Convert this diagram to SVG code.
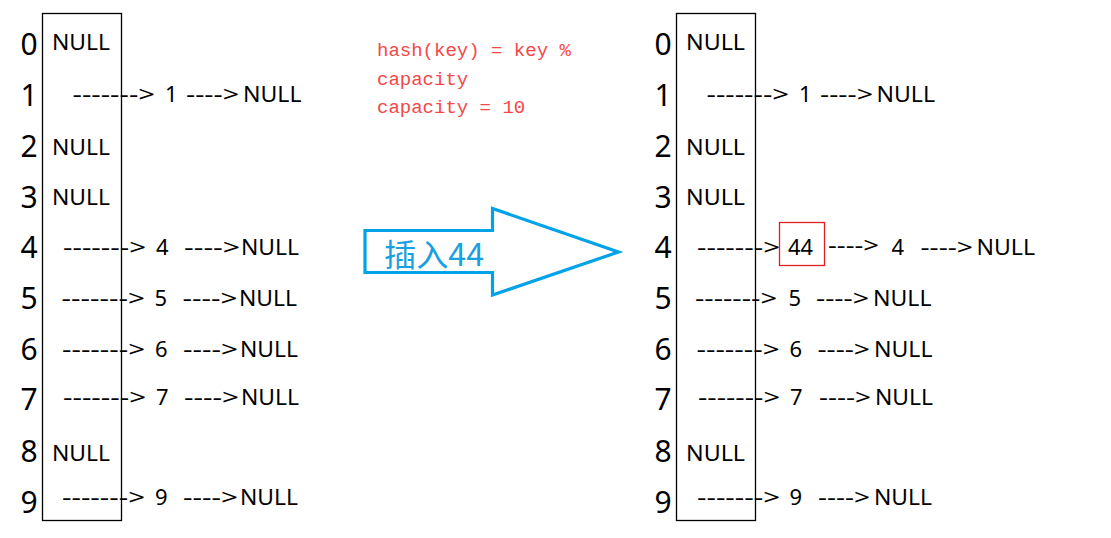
<svg xmlns="http://www.w3.org/2000/svg" width="1111" height="538" viewBox="0 0 1111 538">
<style>
.bg{fill:#ffffff}
.box{fill:none;stroke:#000;stroke-width:1.3}
.idx{font-family:"Noto Sans","Open Sans","DejaVu Sans",sans-serif;font-size:30px;fill:#000;text-anchor:middle}
.t{font-family:"Noto Sans","Open Sans","DejaVu Sans",sans-serif;font-size:22px;fill:#000}
.red{font-family:"Liberation Mono","DejaVu Sans Mono",monospace;font-size:19px;fill:#f44848}
.arrow{fill:#ffffff;stroke:#00a2e8;stroke-width:3.2;stroke-linejoin:miter}
.blue{font-family:"Noto Sans CJK SC","Noto Sans",sans-serif;font-size:31px;fill:#1aa0e0}
.hl{fill:none;stroke:#e02020;stroke-width:1.3}
</style>
<rect class="bg" x="0" y="0" width="1111" height="538"/>

<g id="left-table">
  <rect class="box" x="42.5" y="13.5" width="79" height="507"/>
  <text class="idx" x="29" y="55">0</text>
  <text class="idx" x="29" y="106">1</text>
  <text class="idx" x="29" y="157">2</text>
  <text class="idx" x="29" y="208">3</text>
  <text class="idx" x="29" y="258">4</text>
  <text class="idx" x="29" y="309">5</text>
  <text class="idx" x="29" y="360">6</text>
  <text class="idx" x="29" y="410">7</text>
  <text class="idx" x="29" y="462">8</text>
  <text class="idx" x="29" y="513">9</text>
  <text class="t" x="52" y="50" textLength="58" lengthAdjust="spacingAndGlyphs">NULL</text>
  <text class="t" x="52" y="155" textLength="58" lengthAdjust="spacingAndGlyphs">NULL</text>
  <text class="t" x="52" y="205" textLength="58" lengthAdjust="spacingAndGlyphs">NULL</text>
  <text class="t" x="52" y="461" textLength="58" lengthAdjust="spacingAndGlyphs">NULL</text>
</g>

<g id="left-chains">
  <g id="l-row1">
    <text class="t" x="72.5" y="102" textLength="82.5" lengthAdjust="spacingAndGlyphs">-------&gt;</text>
    <text class="t" x="165" y="102">1</text>
    <text class="t" x="186" y="102" textLength="53" lengthAdjust="spacingAndGlyphs">----&gt;</text>
    <text class="t" x="243" y="102" textLength="58.5" lengthAdjust="spacingAndGlyphs">NULL</text>
  </g>
  <g id="l-row4">
    <text class="t" x="63" y="255" textLength="83" lengthAdjust="spacingAndGlyphs">-------&gt;</text>
    <text class="t" x="156" y="255">4</text>
    <text class="t" x="184" y="255" textLength="56" lengthAdjust="spacingAndGlyphs">----&gt;</text>
    <text class="t" x="241" y="255" textLength="58" lengthAdjust="spacingAndGlyphs">NULL</text>
  </g>
  <g id="l-row5">
    <text class="t" x="61.5" y="306" textLength="83.5" lengthAdjust="spacingAndGlyphs">-------&gt;</text>
    <text class="t" x="154.5" y="306">5</text>
    <text class="t" x="182.5" y="306" textLength="55" lengthAdjust="spacingAndGlyphs">----&gt;</text>
    <text class="t" x="239" y="306" textLength="58" lengthAdjust="spacingAndGlyphs">NULL</text>
  </g>
  <g id="l-row6">
    <text class="t" x="62" y="357" textLength="83" lengthAdjust="spacingAndGlyphs">-------&gt;</text>
    <text class="t" x="155" y="357">6</text>
    <text class="t" x="183" y="357" textLength="55" lengthAdjust="spacingAndGlyphs">----&gt;</text>
    <text class="t" x="240" y="357" textLength="58" lengthAdjust="spacingAndGlyphs">NULL</text>
  </g>
  <g id="l-row7">
    <text class="t" x="63" y="405" textLength="83" lengthAdjust="spacingAndGlyphs">-------&gt;</text>
    <text class="t" x="156" y="405">7</text>
    <text class="t" x="184" y="405" textLength="55" lengthAdjust="spacingAndGlyphs">----&gt;</text>
    <text class="t" x="241" y="405" textLength="58" lengthAdjust="spacingAndGlyphs">NULL</text>
  </g>
  <g id="l-row9">
    <text class="t" x="62" y="505" textLength="83" lengthAdjust="spacingAndGlyphs">-------&gt;</text>
    <text class="t" x="155" y="505">9</text>
    <text class="t" x="183" y="505" textLength="55" lengthAdjust="spacingAndGlyphs">----&gt;</text>
    <text class="t" x="240" y="505" textLength="58" lengthAdjust="spacingAndGlyphs">NULL</text>
  </g>
</g>

<g id="formula">
  <text class="red" x="377" y="56" xml:space="preserve">hash(key) = key %</text>
  <text class="red" x="377" y="85">capacity</text>
  <text class="red" x="377" y="113" xml:space="preserve">capacity = 10</text>
</g>

<g id="insert-arrow">
  <polygon class="arrow" points="365,230.5 492.5,230.5 492.5,208.5 618.5,252 492.5,295 492.5,272.5 365,272.5"/>
  <text class="blue" x="384" y="266" textLength="100" lengthAdjust="spacingAndGlyphs">插入44</text>
</g>

<g id="right-table">
  <rect class="box" x="676.5" y="13.5" width="79" height="507"/>
  <text class="idx" x="663" y="55">0</text>
  <text class="idx" x="663" y="106">1</text>
  <text class="idx" x="663" y="157">2</text>
  <text class="idx" x="663" y="208">3</text>
  <text class="idx" x="663" y="258">4</text>
  <text class="idx" x="663" y="309">5</text>
  <text class="idx" x="663" y="360">6</text>
  <text class="idx" x="663" y="410">7</text>
  <text class="idx" x="663" y="462">8</text>
  <text class="idx" x="663" y="513">9</text>
  <text class="t" x="686" y="50" textLength="59" lengthAdjust="spacingAndGlyphs">NULL</text>
  <text class="t" x="686" y="155" textLength="59" lengthAdjust="spacingAndGlyphs">NULL</text>
  <text class="t" x="686" y="205" textLength="59" lengthAdjust="spacingAndGlyphs">NULL</text>
  <text class="t" x="686" y="461" textLength="59" lengthAdjust="spacingAndGlyphs">NULL</text>
</g>

<g id="right-chains">
  <g id="r-row1">
    <text class="t" x="706.5" y="102" textLength="82.5" lengthAdjust="spacingAndGlyphs">-------&gt;</text>
    <text class="t" x="799" y="102">1</text>
    <text class="t" x="820" y="102" textLength="53" lengthAdjust="spacingAndGlyphs">----&gt;</text>
    <text class="t" x="876.5" y="102" textLength="58.5" lengthAdjust="spacingAndGlyphs">NULL</text>
  </g>
  <g id="r-row4">
    <text class="t" x="697" y="255" textLength="83" lengthAdjust="spacingAndGlyphs">-------&gt;</text>
    <text class="t" x="828" y="253" textLength="51" lengthAdjust="spacingAndGlyphs">----&gt;</text>
    <text class="t" x="891.5" y="255">4</text>
    <text class="t" x="920.5" y="255" textLength="52.5" lengthAdjust="spacingAndGlyphs">----&gt;</text>
    <text class="t" x="976.5" y="255" textLength="58.5" lengthAdjust="spacingAndGlyphs">NULL</text>
  </g>
  <g id="r-row5">
    <text class="t" x="695" y="306" textLength="82" lengthAdjust="spacingAndGlyphs">-------&gt;</text>
    <text class="t" x="788.5" y="306">5</text>
    <text class="t" x="816" y="306" textLength="53" lengthAdjust="spacingAndGlyphs">----&gt;</text>
    <text class="t" x="873" y="306" textLength="58.5" lengthAdjust="spacingAndGlyphs">NULL</text>
  </g>
  <g id="r-row6">
    <text class="t" x="696.5" y="357" textLength="83" lengthAdjust="spacingAndGlyphs">-------&gt;</text>
    <text class="t" x="789.5" y="357">6</text>
    <text class="t" x="817.5" y="357" textLength="52.5" lengthAdjust="spacingAndGlyphs">----&gt;</text>
    <text class="t" x="874" y="357" textLength="58.5" lengthAdjust="spacingAndGlyphs">NULL</text>
  </g>
  <g id="r-row7">
    <text class="t" x="698" y="405" textLength="82" lengthAdjust="spacingAndGlyphs">-------&gt;</text>
    <text class="t" x="790" y="405">7</text>
    <text class="t" x="819" y="405" textLength="52" lengthAdjust="spacingAndGlyphs">----&gt;</text>
    <text class="t" x="875" y="405" textLength="58" lengthAdjust="spacingAndGlyphs">NULL</text>
  </g>
  <g id="r-row9">
    <text class="t" x="697" y="505" textLength="83" lengthAdjust="spacingAndGlyphs">-------&gt;</text>
    <text class="t" x="789.5" y="505">9</text>
    <text class="t" x="818" y="505" textLength="52" lengthAdjust="spacingAndGlyphs">----&gt;</text>
    <text class="t" x="874" y="505" textLength="58" lengthAdjust="spacingAndGlyphs">NULL</text>
  </g>
</g>

<g id="new-node-44">
  <rect class="hl" x="779.5" y="222.5" width="45" height="43"/>
  <text class="t" x="788" y="255" textLength="25" lengthAdjust="spacingAndGlyphs">44</text>
</g>
</svg>
